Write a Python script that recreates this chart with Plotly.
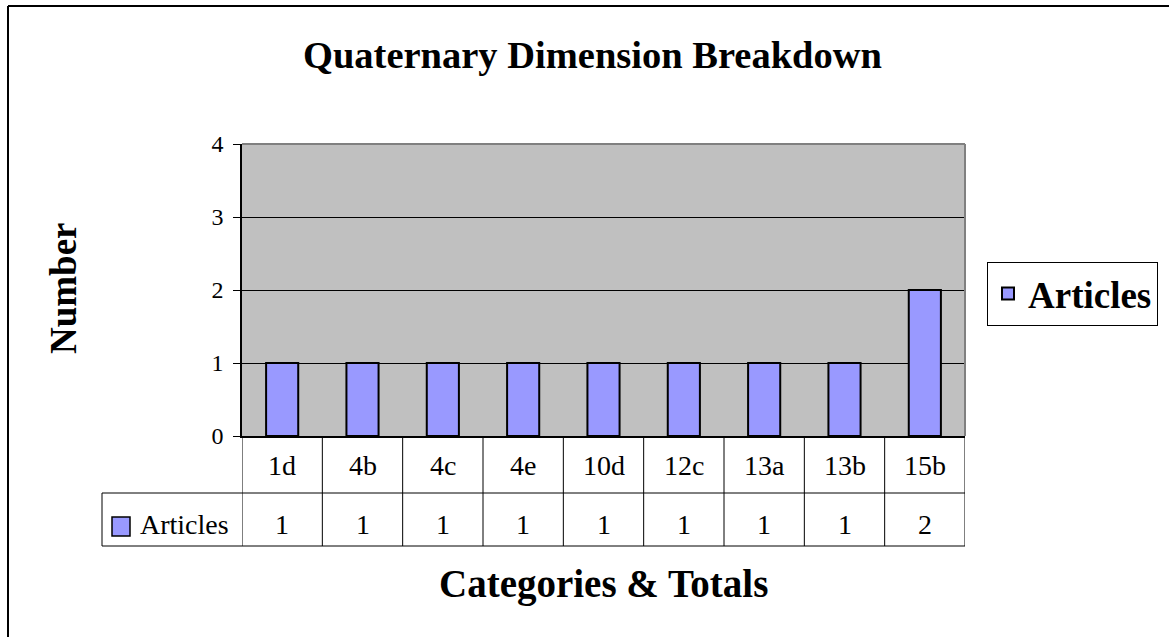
import plotly.graph_objects as go

categories = ["1d", "4b", "4c", "4e", "10d", "12c", "13a", "13b", "15b"]
articles = [1, 1, 1, 1, 1, 1, 1, 1, 2]
series_name = "Articles"
y_ticks = [0, 1, 2, 3, 4]

title_text = "Quaternary Dimension Breakdown"
y_title = "Number"
x_title = "Categories & Totals"

W, H = 1169, 637
SERIF = "Liberation Serif, Times New Roman, serif"
BAR_COLOR = "#9999FF"
PLOT_BG = "#C0C0C0"


def px(x):
    return x / W


def py(y):
    return 1 - y / H


# pixel layout
PL, PR, PT, PB = 242, 965, 144, 436
ROW1_B, ROW2_B = 493, 546
TABLE_L = 102
TABLE_FONT = 28

fig = go.Figure()
fig.add_trace(go.Bar(
    x=categories, y=articles, name=series_name,
    marker=dict(color=BAR_COLOR, line=dict(color="black", width=2)),
    width=0.4,
))

shapes = []
annotations = []

# outer chart frame
shapes.append(dict(type="line", xref="paper", yref="paper", x0=px(8), x1=px(W + 10), y0=py(6), y1=py(6),
                   line=dict(color="black", width=2)))
shapes.append(dict(type="line", xref="paper", yref="paper", x0=px(8), x1=px(8), y0=py(6), y1=py(H + 10),
                   line=dict(color="black", width=2)))

# plot area top/right border (gray)
shapes.append(dict(type="line", xref="paper", yref="paper", x0=px(PL), x1=px(PR), y0=py(PT), y1=py(PT),
                   line=dict(color="#808080", width=2), layer="above"))
shapes.append(dict(type="line", xref="paper", yref="paper", x0=px(PR), x1=px(PR), y0=py(PT), y1=py(PB),
                   line=dict(color="#808080", width=2), layer="above"))

# data table: vertical dividers at category boundaries
n = len(categories)
for i in range(n + 1):
    shapes.append(dict(type="line", xref="x", yref="paper", x0=i - 0.5, x1=i - 0.5,
                       y0=py(PB), y1=py(ROW2_B), line=dict(color="black", width=1)))
# horizontal lines
for yy in (ROW1_B, ROW2_B):
    shapes.append(dict(type="line", xref="paper", yref="paper", x0=px(TABLE_L), x1=px(PR),
                       y0=py(yy), y1=py(yy), line=dict(color="black", width=1)))
shapes.append(dict(type="line", xref="paper", yref="paper", x0=px(TABLE_L), x1=px(TABLE_L),
                   y0=py(ROW1_B), y1=py(ROW2_B), line=dict(color="black", width=1)))
# legend key in table
shapes.append(dict(type="rect", xref="paper", yref="paper", x0=px(112), x1=px(130),
                   y0=py(517), y1=py(536), fillcolor=BAR_COLOR, line=dict(color="black", width=1.5)))

annotations.append(dict(text=series_name, xref="paper", yref="paper", x=px(138), y=py(524),
                        xanchor="left", yanchor="middle", showarrow=False,
                        font=dict(family=SERIF, size=TABLE_FONT, color="black")))

for c, v in zip(categories, articles):
    annotations.append(dict(text=c, xref="x", yref="paper", x=c, y=py(465), xanchor="center",
                            yanchor="middle", showarrow=False,
                            font=dict(family=SERIF, size=TABLE_FONT, color="black")))
    annotations.append(dict(text=str(v), xref="x", yref="paper", x=c, y=py(524), xanchor="center",
                            yanchor="middle", showarrow=False,
                            font=dict(family=SERIF, size=TABLE_FONT, color="black")))

# titles
annotations.append(dict(text=title_text, xref="paper", yref="paper", x=px(592), y=py(55),
                        xanchor="center", yanchor="middle", showarrow=False,
                        font=dict(family=SERIF, size=38.5, color="black", weight="bold")))
annotations.append(dict(text=y_title, xref="paper", yref="paper", x=px(63), y=py(288),
                        xanchor="center", yanchor="middle", showarrow=False, textangle=-90,
                        font=dict(family=SERIF, size=37, color="black", weight="bold")))
annotations.append(dict(text=x_title, xref="paper", yref="paper", x=px(603), y=py(584),
                        xanchor="center", yanchor="middle", showarrow=False,
                        font=dict(family=SERIF, size=39, color="black", weight="bold")))

fig.update_layout(
    template="none",
    width=W, height=H,
    margin=dict(l=0, r=0, t=0, b=0, pad=0, autoexpand=False),
    paper_bgcolor="white",
    plot_bgcolor=PLOT_BG,
    showlegend=True,
    legend=dict(x=px(987), y=py(262), xanchor="left", yanchor="top",
                bordercolor="black", borderwidth=1, bgcolor="white",
                font=dict(family=SERIF, size=37, color="black", weight="bold")),
    xaxis=dict(domain=[px(PL), px(PR)], range=[-0.5, n - 0.5], type="category",
               showticklabels=False, ticks="", showgrid=False, automargin=False,
               showline=True, linecolor="black", linewidth=2, zeroline=False, fixedrange=True),
    yaxis=dict(domain=[py(PB), py(PT)], range=[0, 4], tickvals=y_ticks, automargin=False,
               ticks="outside", ticklen=7, tickcolor="black", tickwidth=1,
               ticklabelstandoff=5,
               showline=True, linecolor="black", linewidth=1.5,
               showgrid=True, gridcolor="black", gridwidth=1, zeroline=False,
               tickfont=dict(family=SERIF, size=24, color="black"), fixedrange=True),
    shapes=shapes,
    annotations=annotations,
)

fig.write_html(
    "out.html",
    config={"displayModeBar": False},
    post_script="document.body.style.margin='0px';document.body.style.overflow='hidden';",
)
